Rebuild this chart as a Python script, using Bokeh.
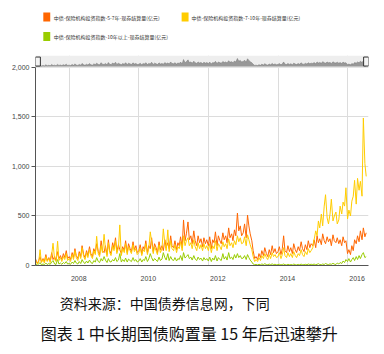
import datetime as dt
import pandas as pd
from bokeh.plotting import figure
from bokeh.layouts import column
from bokeh.models import Range1d, FixedTicker, DatetimeTickFormatter, NumeralTickFormatter
from bokeh.core.properties import value
from bokeh.embed import file_html
from bokeh.resources import INLINE

# ---------------- data (semi-monthly) ----------------
series_names = [
    "中债-保险机构投资指数-5-7年-现券结算量(亿元)",
    "中债-保险机构投资指数-7-10年-现券结算量(亿元)",
    "中债-保险机构投资指数-10年以上-现券结算量(亿元)",
]
colors = ["#FF6600", "#FFCC00", "#99CC00"]
start_date = "2007-01-01"

s57 = [
    30, 60, 20, 50, 90, 35, 70, 40, 110, 50, 80, 45, 130, 60, 90, 50, 140, 70, 100, 60, 120, 80, 150, 70,
    90, 60, 130, 80, 170, 100, 70, 140, 90, 200, 110, 80, 150, 100, 190, 120, 90, 170, 130, 220, 140, 110, 250, 150,
    130, 200, 110, 260, 150, 120, 230, 170, 280, 140, 210, 160, 120, 190, 150, 250, 130, 220, 170, 140, 240, 160, 200, 130,
    150, 210, 120, 190, 160, 250, 130, 200, 170, 280, 140, 220, 180, 130, 240, 160, 200, 150, 260, 180, 230, 170, 300, 200,
    180, 250, 160, 230, 200, 290, 180, 460, 250, 320, 440, 260, 300, 220, 350, 250, 200, 300, 230, 270, 190, 280, 220, 260,
    200, 290, 170, 260, 230, 340, 200, 300, 250, 220, 330, 260, 300, 230, 380, 280, 320, 250, 360, 300, 530, 350, 400, 300,
    330, 420, 280, 510, 400, 320, 250, 150, 70, 90, 60, 120, 80, 150, 100, 180, 120, 90, 160, 110, 200, 130, 170, 120,
    140, 190, 110, 170, 300, 150, 130, 200, 140, 180, 120, 220, 160, 130, 190, 150, 240, 170, 140, 210, 160, 250, 180, 220,
    200, 260, 180, 300, 230, 270, 210, 320, 250, 220, 290, 240, 270, 200, 310, 250, 230, 280, 220, 260, 200, 290, 230, 250,
    120, 160, 110, 200, 150, 260, 220, 300, 240, 350, 260, 380, 290, 330,
]
s710 = [
    20, 50, 15, 40, 160, 30, 60, 25, 90, 40, 70, 30, 110, 225, 60, 40, 245, 50, 80, 40, 90, 60, 120, 50,
    70, 40, 110, 60, 150, 80, 50, 120, 70, 180, 90, 60, 130, 80, 160, 100, 70, 150, 110, 295, 120, 90, 200, 130,
    315, 170, 90, 230, 130, 100, 200, 150, 250, 120, 180, 410, 100, 170, 130, 220, 110, 190, 150, 120, 210, 140, 170, 110,
    130, 180, 100, 160, 140, 220, 110, 170, 340, 240, 120, 190, 150, 110, 210, 130, 170, 370, 220, 150, 360, 140, 250, 170,
    150, 210, 130, 190, 170, 240, 150, 300, 200, 250, 280, 200, 230, 170, 260, 190, 150, 230, 170, 210, 150, 220, 170, 200,
    150, 220, 130, 200, 170, 250, 150, 220, 190, 160, 240, 190, 220, 170, 270, 200, 230, 180, 250, 210, 300, 240, 280, 220,
    230, 290, 200, 310, 260, 210, 160, 90, 40, 60, 40, 80, 50, 100, 70, 120, 80, 60, 110, 70, 130, 90, 110, 80,
    90, 130, 70, 110, 180, 100, 80, 130, 90, 120, 80, 140, 100, 80, 120, 100, 160, 110, 90, 140, 110, 170, 130, 150,
    180, 260, 350, 300, 450, 380, 520, 400, 600, 715, 480, 420, 520, 670, 450, 500, 540, 420, 460, 600, 520, 640, 600, 785,
    470, 560, 500, 650, 700, 860, 620, 880, 760, 850, 700, 1490, 1030, 900,
]
s10 = [
    5, 10, 5, 15, 30, 8, 15, 10, 25, 10, 20, 12, 35, 50, 15, 10, 60, 15, 25, 12, 30, 20, 40, 15,
    20, 12, 35, 20, 50, 25, 15, 40, 20, 60, 30, 20, 45, 25, 55, 30, 20, 50, 35, 80, 40, 30, 70, 45,
    90, 55, 30, 70, 40, 35, 60, 45, 80, 40, 55, 120, 35, 60, 40, 75, 35, 65, 50, 40, 80, 45, 60, 35,
    45, 70, 35, 60, 50, 90, 40, 65, 120, 80, 45, 70, 55, 40, 85, 50, 65, 130, 80, 55, 120, 50, 90, 60,
    50, 80, 45, 70, 60, 100, 50, 130, 75, 90, 110, 70, 85, 55, 100, 65, 50, 85, 60, 75, 45, 80, 55, 70,
    45, 85, 40, 75, 55, 100, 45, 80, 60, 50, 120, 65, 90, 55, 130, 70, 85, 60, 110, 75, 120, 80, 100, 70,
    75, 100, 60, 110, 80, 55, 35, 15, 8, 10, 6, 12, 8, 15, 10, 18, 10, 8, 14, 9, 16, 10, 12, 8,
    8, 12, 6, 10, 15, 8, 6, 12, 8, 10, 6, 14, 9, 6, 11, 8, 13, 9, 7, 12, 8, 15, 10, 12,
    10, 14, 8, 12, 18, 10, 8, 15, 10, 20, 12, 10, 16, 12, 22, 14, 10, 25, 15, 30, 20, 45, 30, 60,
    40, 70, 35, 60, 80, 50, 90, 60, 100, 70, 110, 130, 80, 90,
]
y_ticks = [0, 500, 1000, 1500, 2000]
grid_years = [2008, 2010, 2012, 2014, 2016]
source_text = "资料来源：中国债券信息网，下同"
title_text = "图表 1 中长期国债购置量 15 年后迅速攀升"

dates = pd.date_range(start_date, periods=len(s57), freq="SMS")
series = [s57, s710, s10]

CJK = "Noto Sans CJK SC"
LAT = "Liberation Sans"

def bare(fig):
    fig.outline_line_color = None
    fig.grid.visible = False
    fig.background_fill_color = "white"
    fig.border_fill_color = "white"

# ---------------- legend ----------------
leg = figure(width=384, height=50, x_range=Range1d(0, 384), y_range=Range1d(50, 0),
             x_axis_type=None, y_axis_type=None, toolbar_location=None,
             output_backend="svg", min_border=0)
bare(leg)
sq_x = [13, 172.5, 13]
sq_y = [16.5, 16.5, 36]
leg.rect(x=sq_x, y=sq_y, width=8, height=9, fill_color=colors, line_color=None)
leg.text(x=[21, 180, 21], y=[16.5, 16.5, 36], text=series_names,
         text_font=value(CJK), text_font_size=value("5px"), text_color="#333333",
         text_baseline="middle", text_align="left")

# ---------------- main chart ----------------
x0 = dt.datetime(2007, 1, 12)
x1 = dt.datetime(2016, 8, 8)
p = figure(width=384, height=233, x_axis_type="datetime", output_backend="svg",
           toolbar_location=None, x_range=Range1d(x0, x1), y_range=Range1d(0, 2121),
           min_border_left=35, min_border_right=16, min_border_top=5, min_border_bottom=18)
p.outline_line_color = None
p.extra_y_ranges = {"nav": Range1d(-13184, 728)}

grid_ms = [pd.Timestamp(f"{y}-01-01").value / 1e6 for y in grid_years]
label_ms = [pd.Timestamp(f"{y}-04-10").value / 1e6 for y in grid_years]

p.xgrid.ticker = FixedTicker(ticks=grid_ms)
p.ygrid.ticker = FixedTicker(ticks=y_ticks[1:])
p.grid.grid_line_color = "#dcdcdc"
p.grid.grid_line_width = 1

p.yaxis.ticker = FixedTicker(ticks=y_ticks)
p.yaxis.formatter = NumeralTickFormatter(format="0,0")
p.yaxis.bounds = (0, 2000)
p.yaxis.major_tick_out = 4
p.yaxis.major_tick_in = 0
p.yaxis.major_tick_line_color = "#555555"
p.yaxis.minor_tick_line_color = None
p.yaxis.axis_line_color = "#555555"
p.yaxis.major_label_standoff = 2

p.xaxis.ticker = FixedTicker(ticks=label_ms)
fmt = "%Y"
p.xaxis.formatter = DatetimeTickFormatter(years=fmt, months=fmt, days=fmt, hours=fmt,
                                          minutes=fmt, seconds=fmt, milliseconds=fmt,
                                          microseconds=fmt, minsec=fmt, hourmin=fmt)
p.xaxis.major_tick_line_color = None
p.xaxis.minor_tick_line_color = None
p.xaxis.axis_line_color = "#555555"
p.xaxis.major_label_standoff = 4

for ax in (p.xaxis[0], p.yaxis[0]):
    ax.major_label_text_font = LAT
    ax.major_label_text_font_size = "7px"
    ax.major_label_text_color = "#444444"

# navigator strip
p.quad(left=[x0], right=[x1], bottom=[y_ticks[-1]], top=[2121],
       fill_color="#eeeeee", line_color=None)
p.varea(x=dates, y1=0, y2=s57, y_range_name="nav", fill_color="#888888", fill_alpha=0.85)
p.line(x=dates, y=s57, y_range_name="nav", line_color="#777777", line_width=0.5)
p.rect(x=[x0 + dt.timedelta(days=25), x1 - dt.timedelta(days=25)], y=[2060, 2060],
       width=5, height=9, width_units="screen", height_units="screen",
       fill_color="#f4f4f4", line_color="#333333", line_width=1)

for s, c in zip(series, colors):
    p.line(x=dates, y=s, line_color=c, line_width=1)

# ---------------- caption ----------------
cap = figure(width=384, height=71, x_range=Range1d(0, 384), y_range=Range1d(71, 0),
             x_axis_type=None, y_axis_type=None, toolbar_location=None,
             output_backend="svg", min_border=0)
bare(cap)
cap.text(x=[28], y=[19], text=[source_text], text_font=value(CJK),
         text_font_size=value("14px"), text_color="#111111",
         text_baseline="middle", text_align="left")
cap.text(x=[6], y=[49], text=[title_text], text_font=value(CJK),
         text_font_size=value("16px"), text_color="#111111",
         text_baseline="middle", text_align="left")

layout = column(leg, p, cap, spacing=0)
open("out.html", "w").write(file_html(layout, INLINE))
